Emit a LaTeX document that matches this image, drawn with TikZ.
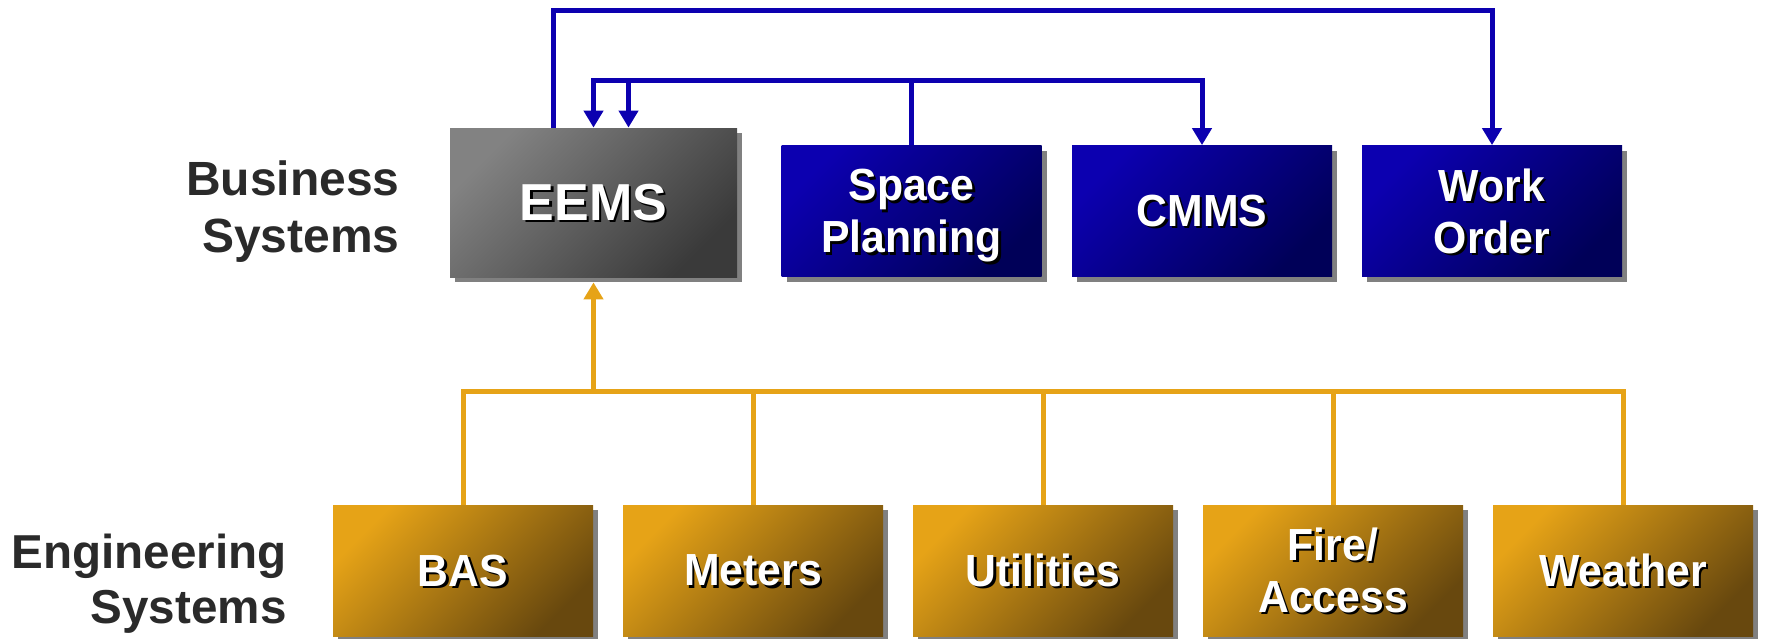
\documentclass[tikz,border=0pt]{standalone}
\usepackage{fontspec}
\setmainfont{Liberation Sans}
\newfontfamily\boxfont[FakeStretch=0.95]{Liberation Sans}
\usetikzlibrary{arrows.meta, shadows}

\definecolor{eemsTop}{RGB}{130,130,130}
\definecolor{eemsBot}{RGB}{58,58,58}
\definecolor{bizTop}{RGB}{12,0,176}
\definecolor{bizBot}{RGB}{0,0,88}
\definecolor{engTop}{RGB}{230,163,23}
\definecolor{engBot}{RGB}{104,72,14}
\definecolor{wireBlue}{RGB}{12,0,176}
\definecolor{wireGold}{RGB}{230,163,23}
\definecolor{labelInk}{RGB}{42,42,42}
\definecolor{shadowGray}{RGB}{128,128,128}

% white text with a small black drop behind it
\newcommand{\lift}[1]{\leavevmode\rlap{\hspace{1.2pt}\raisebox{-1.2pt}[0pt][0pt]{\color{black}#1}}#1}

\tikzset{
    sysbox/.style={minimum width=130pt, minimum height=65.5pt, inner sep=0pt,
        text=white, align=center, font=\boxfont\bfseries\fontsize{22.5}{26}\selectfont,
        drop shadow={shadow xshift=2.5pt, shadow yshift=-2.5pt, fill=shadowGray, opacity=1}},
    eemsbox/.style={sysbox, minimum width=143.5pt, minimum height=74.5pt,
        top color=eemsTop, bottom color=eemsBot, shading angle=45,
        font=\bfseries\fontsize{26}{26}\selectfont},
    bizbox/.style={sysbox, top color=bizTop, bottom color=bizBot, shading angle=45},
    engbox/.style={sysbox, top color=engTop, bottom color=engBot, shading angle=45},
    syslabel/.style={text=labelInk, align=right, inner sep=0pt, anchor=east},
    blueline/.style={draw=wireBlue, line width=2.5pt},
    goldline/.style={draw=wireGold, line width=2.5pt},
}

\begin{document}
\begin{tikzpicture}[x=0.5pt, y=-0.5pt, >={Triangle[width=9.5pt, length=8.5pt]}]
    \useasboundingbox (0,0) rectangle (1765,638);

    % --- ROW LABELS ---
    \node[syslabel, font=\bfseries\fontsize{24}{28.5}\selectfont] (bizlabel) at (400,212) {Business\\Systems};
    \node[syslabel, font=\bfseries\fontsize{23.8}{27.5}\selectfont] (englabel) at (287,584) {Engineering\\Systems};

    % --- BUSINESS SYSTEMS ---
    \node[eemsbox] (eems) at (593.5,202.5) {\lift{EEMS}};
    \node[bizbox] (space) at (911.5,211) {\lift{Space}\\\smash{\lift{Planning}}};
    \node[bizbox] (cmms) at (1202,211) {\lift{CMMS}};
    \node[bizbox] (work) at (1492,211) {\lift{Work}\\\lift{Order}};

    % --- ENGINEERING SYSTEMS ---
    \node[engbox] (bas) at (463,570.5) {\lift{BAS}};
    \node[engbox] (meters) at (753,570.5) {\lift{Meters}};
    \node[engbox] (utilities) at (1043,570.5) {\lift{Utilities}};
    \node[engbox] (fire) at (1333,570.5) {\lift{Fire/}\\\lift{Access}};
    \node[engbox] (weather) at (1623,570.5) {\lift{Weather}};

    % --- BUS LEVELS ---
    \coordinate (hiwire) at (0,10);
    \coordinate (lowire) at (0,80);
    \coordinate (bar) at (0,391);

    % --- BLUE LINKS ---
    % EEMS out to Work Order over the top
    \draw[blueline, ->] ([xshift=-20pt]eems.north) -- ([xshift=-20pt]eems.north |- hiwire) -| (work.north);
    % Space Planning feeds EEMS (twice) and CMMS
    \draw[blueline, ->] (space.north) -- (space.north |- lowire) -| (eems.north);
    \draw[blueline, ->] (space.north |- lowire) -| ([xshift=17.5pt]eems.north);
    \draw[blueline, ->] (space.north |- lowire) -| (cmms.north);

    % --- GOLD LINKS ---
    \draw[goldline] (bas.north) -- (bas.north |- bar) -- (weather.north |- bar) -- (weather.north);
    \foreach \src in {meters, utilities, fire}
        \draw[goldline] (\src.north) -- (\src.north |- bar);
    \draw[goldline, ->] (eems.south |- bar) -- ([yshift=-2.5pt]eems.south);

\end{tikzpicture}
\end{document}
